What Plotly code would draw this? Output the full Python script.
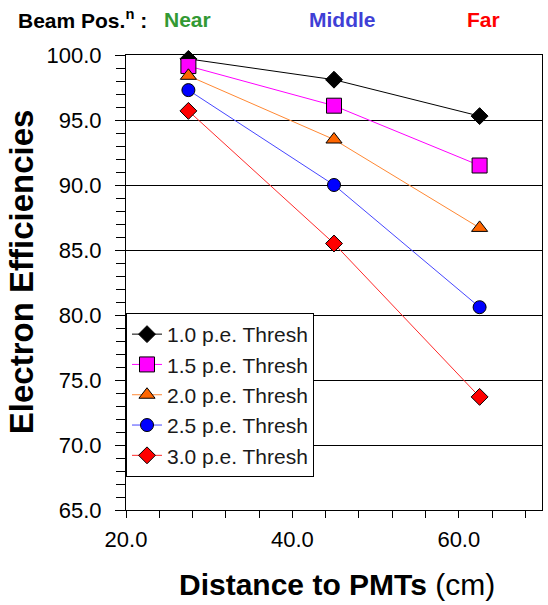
import plotly.graph_objects as go

distance = [27.5, 45.0, 62.5]
series_names = ["1.0 p.e. Thresh", "1.5 p.e. Thresh", "2.0 p.e. Thresh",
                "2.5 p.e. Thresh", "3.0 p.e. Thresh"]
eff_10 = [99.7, 98.1, 95.3]
eff_15 = [99.15, 96.1, 91.5]
eff_20 = [98.4, 93.5, 86.7]
eff_25 = [97.3, 90.0, 80.6]
eff_30 = [95.7, 85.5, 73.7]
series_values = [eff_10, eff_15, eff_20, eff_25, eff_30]

line_colors = ["#000000", "#ff00ff", "#ff8833", "#4646ff", "#ff2a2a"]
marker_colors = ["#000000", "#ff00ff", "#ff6600", "#0000ff", "#ff0000"]
symbols = ["diamond", "square", "triangle-up", "circle", "diamond"]
sizes = [13, 15, 14, 13, 13]

FONT = "Liberation Sans, Arial, sans-serif"

fig = go.Figure()
for name, vals, lc, mc, sym, sz in zip(series_names, series_values, line_colors,
                                        marker_colors, symbols, sizes):
    fig.add_trace(go.Scatter(
        x=distance, y=vals, name=name, mode="lines+markers",
        line=dict(color=lc, width=1),
        marker=dict(symbol=sym, size=sz, color=mc,
                    line=dict(color="#000000", width=1)),
        cliponaxis=False,
    ))

fig.update_layout(
    width=548, height=605,
    margin=dict(l=126, r=6, t=55, b=95),
    paper_bgcolor="white", plot_bgcolor="white",
    font=dict(family=FONT, color="#000000"),
    showlegend=True,
    legend=dict(x=0, y=0.433, xanchor="left", yanchor="top",
                bgcolor="white", bordercolor="#000000", borderwidth=1,
                font=dict(size=21, family=FONT, color="#1a1a1a"),
                tracegroupgap=0),
)

fig.update_xaxes(
    range=[20, 70], dtick=20, tick0=20, tickformat=".1f",
    showgrid=False, zeroline=False,
    showline=True, linecolor="#000000", linewidth=1, mirror=True,
    ticks="outside", ticklen=7, tickcolor="#000000",
    minor=dict(dtick=4, tick0=20, ticks="outside", ticklen=7, tickcolor="#000000"),
    tickfont=dict(size=22, family=FONT),
    ticklabelstandoff=3,
)
fig.update_yaxes(
    range=[65, 100], dtick=5, tick0=65, tickformat=".1f",
    showgrid=True, gridcolor="#000000", gridwidth=1, zeroline=False,
    showline=True, linecolor="#000000", linewidth=1, mirror=True,
    ticks="outside", ticklen=10, tickcolor="#000000",
    minor=dict(dtick=1, ticks="outside", ticklen=9, tickcolor="#000000", showgrid=False),
    tickfont=dict(size=22, family=FONT),
    ticklabelstandoff=9,
)

# axis titles
fig.add_annotation(xref="paper", yref="paper", x=-0.252, y=0.523,
                   xanchor="center", yanchor="middle",
                   text="<b>Electron Efficiencies</b>", textangle=-90,
                   showarrow=False, font=dict(size=33, family=FONT, color="#000000"))
fig.add_annotation(xref="paper", yref="paper", x=0.508, y=-0.163,
                   xanchor="center", yanchor="middle",
                   text="<b>Distance to PMTs</b> (cm)",
                   showarrow=False, font=dict(size=30, family=FONT, color="#000000"))

# header
header = [("<b>Beam Pos.<sup>n</sup> :</b>", 16, "#000000"),
          ("<b>Near</b>", 162, "#339933"),
          ("<b>Middle</b>", 307, "#3f3fd6"),
          ("<b>Far</b>", 465, "#ff0000")]
for txt, px, col in header:
    fig.add_annotation(xref="paper", yref="paper", x=(px - 126) / 416, y=(510 - 19) / 455,
                       xanchor="left", yanchor="middle", text=txt, showarrow=False,
                       font=dict(size=21, family=FONT, color=col))

fig.write_html("out.html")
